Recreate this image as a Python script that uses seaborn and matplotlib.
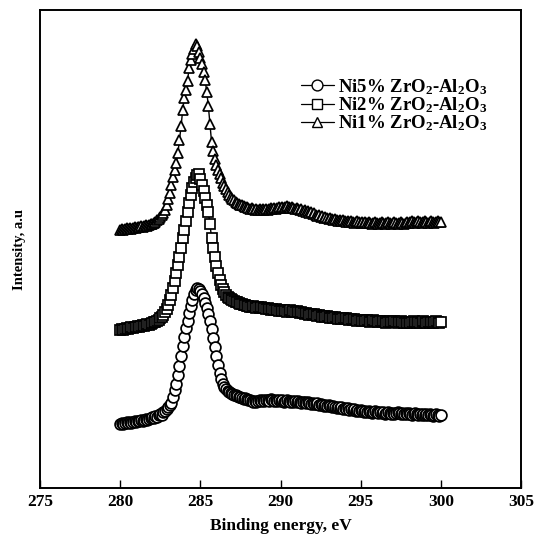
import numpy as np
import pandas as pd
import matplotlib
matplotlib.use("Agg")
import matplotlib.pyplot as plt
import seaborn as sns

# Binding energy grid (eV), 0.1 eV step as in the measured spectra
energy = np.round(np.arange(280.0, 300.01, 0.1), 1)

# Intensity (arbitrary units)
ni5 = [64,65,64,65,66,65,66,65,66,67,
       66,67,67,68,67,68,69,68,69,70,
       71,70,72,71,73,74,73,76,77,79,
       81,83,85,91,98,104,113,122,132,142,
       151,160,167,175,182,188,194,198,200,199,
       197,194,190,185,180,174,167,159,150,141,
       132,123,115,109,104,101,99,97,96,95,
       94,93,93,92,91,91,90,89,90,89,
       88,88,87,86,87,86,87,88,87,88,
       87,88,88,87,89,88,87,88,87,88,
       87,88,86,87,88,87,86,87,86,87,
       86,87,86,85,86,86,85,86,85,84,
       85,84,84,85,83,84,83,82,83,82,
       83,82,81,82,81,80,81,80,81,79,
       80,79,80,78,79,78,79,77,78,77,
       78,77,76,77,76,77,76,75,76,77,
       76,75,76,75,76,74,75,76,75,74,
       75,74,75,76,75,74,75,74,75,74,
       75,74,73,74,75,74,73,74,73,74,
       73,74,73,74,73,72,73,74,73,72,
       73]

ni2 = [158,159,158,159,160,159,160,161,160,161,
       161,162,161,162,163,162,163,164,163,164,
       165,166,166,167,168,170,171,173,176,179,
       183,188,193,200,207,215,223,231,240,250,
       258,267,276,285,293,300,306,310,313,314,
       309,303,297,290,283,276,264,250,240,231,
       222,215,208,203,199,196,193,191,190,189,
       188,187,186,186,185,184,184,183,183,182,
       182,181,181,182,181,180,181,180,181,180,
       180,179,180,179,178,179,178,179,178,177,
       178,177,178,177,176,177,178,176,177,176,
       177,176,175,176,175,174,175,174,173,174,
       173,174,173,172,173,172,171,172,171,172,
       171,170,171,170,171,170,169,170,169,170,
       169,170,169,168,169,168,169,168,167,168,
       168,167,168,167,168,167,166,167,168,167,
       167,166,167,166,167,166,165,166,167,166,
       166,167,166,165,166,167,166,165,166,165,
       166,165,166,167,166,165,166,165,166,167,
       166,165,166,165,166,165,166,167,166,165,
       166]

ni1 = [258,259,258,259,260,259,260,259,260,261,
       260,261,261,262,261,262,263,262,263,264,
       264,265,266,268,269,271,273,275,278,283,
       289,295,303,311,318,325,335,348,362,378,
       390,398,407,420,428,434,439,444,442,436,
       430,424,416,408,396,382,364,346,337,329,
       323,318,314,310,305,302,299,296,293,291,
       289,288,286,285,284,283,283,282,281,281,
       280,279,280,279,278,279,278,279,278,279,
       278,279,278,279,280,279,280,279,280,281,
       280,281,280,281,282,281,280,281,280,279,
       280,279,278,279,277,278,276,277,275,276,
       274,275,273,272,273,271,272,270,271,270,
       269,270,269,268,269,268,267,268,267,268,
       267,266,267,266,267,266,265,266,267,266,
       265,266,265,266,265,266,265,264,265,266,
       265,264,265,266,265,264,265,266,265,264,
       265,266,265,264,265,266,265,264,265,266,
       265,266,267,266,265,266,267,266,265,266,
       267,266,265,266,267,266,265,266,267,266,
       266]

labels = [r"Ni5% ZrO$_2$-Al$_2$O$_3$",
          r"Ni2% ZrO$_2$-Al$_2$O$_3$",
          r"Ni1% ZrO$_2$-Al$_2$O$_3$"]
xticks = [275, 280, 285, 290, 295, 300, 305]

sns.set_theme(style="white")
plt.rcParams["font.family"] = ["Liberation Serif", "DejaVu Serif"]
plt.rcParams["font.weight"] = "bold"
plt.rcParams["text.color"] = "black"
plt.rcParams["axes.labelcolor"] = "black"
plt.rcParams["xtick.color"] = "black"
plt.rcParams["ytick.color"] = "black"
plt.rcParams["mathtext.fontset"] = "custom"
plt.rcParams["mathtext.rm"] = "Liberation Serif:bold"
plt.rcParams["mathtext.it"] = "Liberation Serif:bold"
plt.rcParams["mathtext.bf"] = "Liberation Serif:bold"
plt.rcParams["mathtext.default"] = "rm"

fig = plt.figure(figsize=(5.38, 5.40), dpi=100)
ax = fig.add_axes([40/538, 52/540, 481/538, 478/540])

series = [(ni5, "o", 7.8), (ni2, "s", 6.8), (ni1, "^", 7.8)]
for (vals, mk, ms), lab in zip(series, labels):
    df = pd.DataFrame({"energy": energy, "intensity": vals})
    sns.lineplot(data=df, x="energy", y="intensity", ax=ax, color="black",
                 linewidth=1.0, marker=mk, markersize=ms,
                 markerfacecolor="white", markeredgecolor="black",
                 markeredgewidth=1.25, label=lab, legend=False)

ax.set_xlim(275, 305)
ax.set_ylim(0, 478)
ax.set_xticks(xticks)
ax.set_xticklabels([str(t) for t in xticks], fontsize=12.5, fontweight="bold")
ax.set_yticks([])
ax.tick_params(axis="x", direction="in", length=6, width=1.0, color="black",
               bottom=True, top=False, pad=4)
for sp in ax.spines.values():
    sp.set_color("black")
    sp.set_linewidth(1.4)

ax.set_xlabel("Binding energy, eV", fontsize=12.5, fontweight="bold", labelpad=6)
ax.set_ylabel("Intensity, a.u", fontsize=10.5, fontweight="bold", labelpad=10)

leg = ax.legend(loc="upper left", bbox_to_anchor=(261/481, 0.86), frameon=False,
                fontsize=13.5, handlelength=1.75, handletextpad=0.2,
                labelspacing=-0.08, numpoints=1, borderaxespad=0.0,
                borderpad=0.0)
for h in leg.legend_handles:
    h.set_markeredgewidth(1.0)
    h.set_linewidth(0.9)

fig.savefig("out.png", dpi=100, facecolor="white")
